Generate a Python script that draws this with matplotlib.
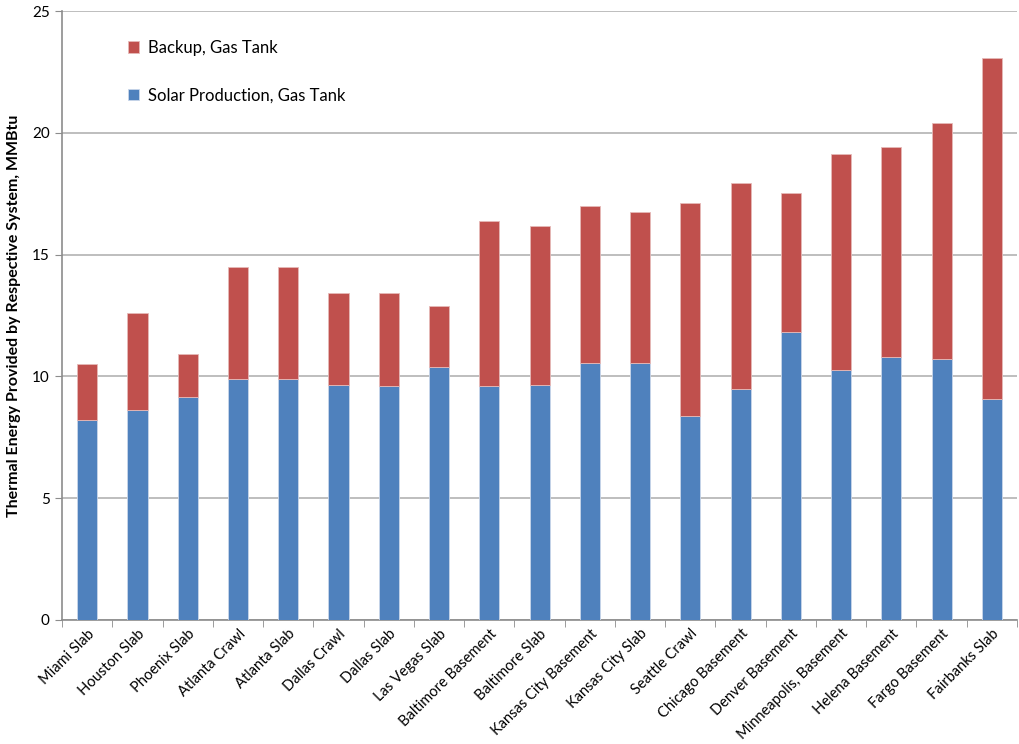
import matplotlib
matplotlib.use("Agg")
import matplotlib.pyplot as plt
import numpy as np

plt.rcParams["font.family"] = ["Lato", "DejaVu Sans"]

sites = ["Miami Slab", "Houston Slab", "Phoenix Slab", "Atlanta Crawl", "Atlanta Slab",
         "Dallas Crawl", "Dallas Slab", "Las Vegas Slab", "Baltimore Basement",
         "Baltimore Slab", "Kansas City Basement", "Kansas City Slab", "Seattle Crawl",
         "Chicago Basement", "Denver Basement", "Minneapolis, Basement",
         "Helena Basement", "Fargo Basement", "Fairbanks Slab"]
solar = [8.20, 8.63, 9.14, 9.90, 9.88, 9.63, 9.62, 10.38, 9.62, 9.64,
         10.53, 10.53, 8.35, 9.49, 11.84, 10.27, 10.78, 10.70, 9.06]
total = [10.52, 12.61, 10.93, 14.47, 14.47, 13.44, 13.44, 12.90, 16.38, 16.19,
         16.98, 16.76, 17.13, 17.95, 17.53, 19.13, 19.43, 20.41, 23.09]
backup = [t - s for t, s in zip(total, solar)]

BLUE = "#4F81BD"
RED = "#C0504D"

fig = plt.figure(figsize=(10.19, 7.44), dpi=100)
ax = fig.add_axes([0.061, 0.167, 0.937, 0.818])

x = np.arange(len(sites))
b1 = ax.bar(x, solar, width=0.4, color=BLUE, edgecolor="#c9d6ea", linewidth=0.6,
            label="Solar Production, Gas Tank", zorder=3)
b2 = ax.bar(x, backup, bottom=solar, width=0.4, color=RED, edgecolor="#e6b9b8",
            linewidth=0.6, label="Backup, Gas Tank", zorder=3)

ax.set_xlim(-0.5, len(sites) - 0.5)
ax.set_ylim(0, 25)
ax.set_yticks(range(0, 26, 5))
ax.yaxis.grid(True, color="#b3b3b3", linewidth=1.2, zorder=0)
ax.tick_params(axis="y", labelsize=11, length=5, color="#8c8c8c", pad=4)

# category labels centred on bars, tick marks between categories
ax.set_xticks(x)
ax.set_xticklabels(sites, rotation=45, ha="right", rotation_mode="anchor", fontsize=10.5)
ax.tick_params(axis="x", which="major", length=0, pad=5)
ax.set_xticks(np.arange(-0.5, len(sites)), minor=True)
ax.tick_params(axis="x", which="minor", length=5, color="#8c8c8c")

for side in ("top", "right"):
    ax.spines[side].set_visible(False)
for side in ("left", "bottom"):
    ax.spines[side].set_color("#8c8c8c")
    ax.spines[side].set_linewidth(1.2)

ax.set_ylabel("Thermal Energy Provided by Respective System, MMBtu",
              fontsize=11.5, fontweight="bold", labelpad=8)

ax.legend([b2, b1], ["Backup, Gas Tank", "Solar Production, Gas Tank"],
          loc="upper left", bbox_to_anchor=(0.053, 0.978), frameon=False,
          fontsize=12, labelspacing=1.9, handlelength=0.7, handleheight=0.7,
          handletextpad=0.5)

fig.savefig("out.png", dpi=100)
plt.close(fig)
